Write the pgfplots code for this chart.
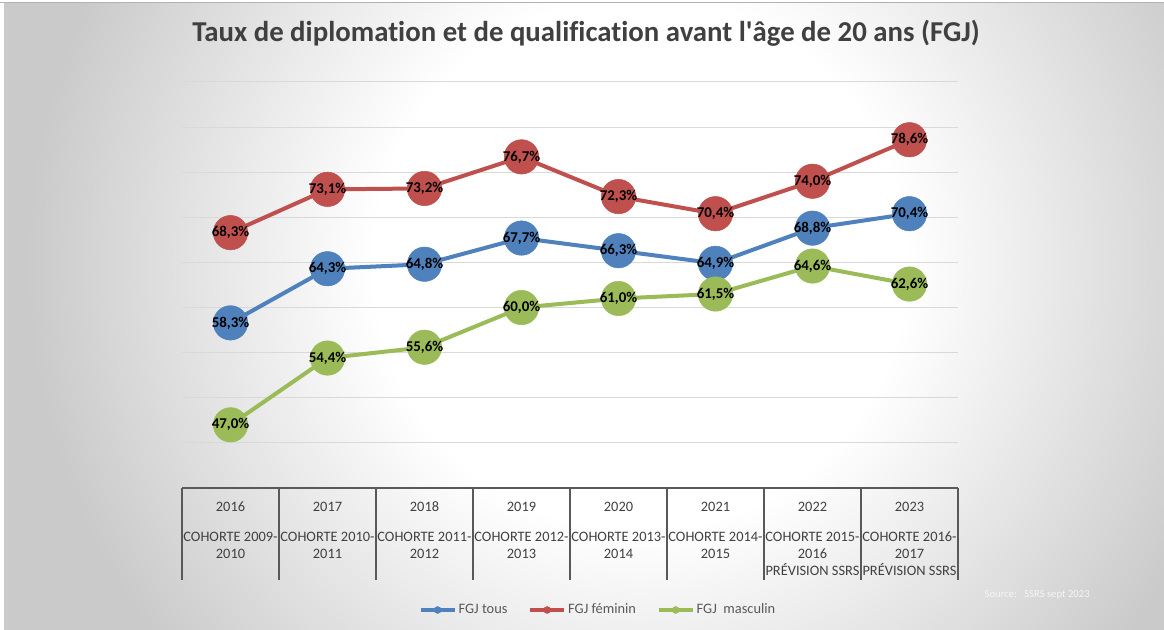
\documentclass[border=0pt]{standalone}
\usepackage{pgfplots}
\pgfplotsset{compat=1.18}
\usepackage{fontspec}
\setmainfont{Carlito}[RawFeature={-liga;-clig;-dlig;-calt}]
\definecolor{cblue}{HTML}{4F81BD}
\definecolor{cred}{HTML}{C0504D}
\definecolor{cgreen}{HTML}{9BBB59}
\definecolor{gridc}{HTML}{D9D9D9}
\definecolor{axc}{HTML}{595959}
\definecolor{txt}{HTML}{404040}
\definecolor{bggray}{HTML}{CACACA}
\pgfdeclareradialshading{bgshade}{\pgfpointorigin}{color(0pt)=(white); color(200pt)=(white); color(460pt)=(bggray); color(800pt)=(bggray)}
\pgfplotstableread{
x tous fem masc
0 58.3 68.3 47.0
1 64.3 73.1 54.4
2 64.8 73.2 55.6
3 67.7 76.7 60.0
4 66.3 72.3 61.0
5 64.9 70.4 61.5
6 68.8 74.0 64.6
7 70.4 78.6 62.6
}\data
\begin{document}
\begin{tikzpicture}
\useasboundingbox (0,0) rectangle (873pt,472.5pt);
\begin{scope}
\clip (0,0) rectangle (873pt,472.5pt);
\node[inner sep=0pt] at (480pt,275pt) {\pgfuseshading{bgshade}};
\end{scope}
\fill[white] (0,0) rectangle (3pt,472.5pt);
\fill[white] (0,471pt) rectangle (873pt,472.5pt);
\draw[gray!60, line width=0.6pt] (0,471pt) -- (873pt,471pt);
\node[anchor=base, text=txt, font=\fontsize{21.6}{24}\selectfont\bfseries] at (439.5pt,441pt) {Taux de diplomation et de qualification avant l\textquotesingle âge de 20 ans (FGJ)};
\node[anchor=base west, text=white!92!gray, font=\fontsize{8}{9}\selectfont] at (735pt,24pt) {Source:\ \ \ SSRS sept 2023};
\begin{axis}[
 at={(136.5pt,106.5pt)}, anchor=south west,
 width=582pt, height=304.5pt, scale only axis,
 xmin=-0.5, xmax=7.5, ymin=40, ymax=85,
 ytick={45,50,...,85}, yticklabels={}, ymajorgrids,
 grid style={gridc, line width=0.75pt},
 major tick length=0pt,
 axis line style={draw=none},
 xtick={0,...,7},
 xticklabels={
  {2016\\[9.75pt]COHORTE 2009-\\2010},
  {2017\\[9.75pt]COHORTE 2010-\\2011},
  {2018\\[9.75pt]COHORTE 2011-\\2012},
  {2019\\[9.75pt]COHORTE 2012-\\2013},
  {2020\\[9.75pt]COHORTE 2013-\\2014},
  {2021\\[9.75pt]COHORTE 2014-\\2015},
  {2022\\[9.75pt]COHORTE 2015-\\2016\\PRÉVISION SSRS},
  {2023\\[9.75pt]COHORTE 2016-\\2017\\PRÉVISION SSRS}},
 xticklabel style={align=center, font=\fontsize{10.8}{12.75}\selectfont, text=txt, anchor=north, yshift=-7pt},
 clip=false,
 every axis plot/.append style={line width=3pt, mark=*, mark size=12.9pt},
 nodes near coords={\pgfmathprintnumber[fixed,fixed zerofill,precision=1,use comma,assume math mode=true]{\pgfplotspointmeta}\%},
 nodes near coords style={anchor=center, text=black, font=\fontsize{11.2}{12}\selectfont\bfseries},
 legend style={at={(0.536,-0.3005)}, anchor=center, draw=none, fill=none, legend columns=3,
   font=\fontsize{10.8}{12}\selectfont, text=axc, nodes={inner xsep=1.5pt},
   /tikz/every even column/.append style={column sep=14pt}},
 legend image code/.code={\draw[mark repeat=2,mark phase=2,#1,mark size=2.6pt,line width=3pt,mark options={line width=0.4pt}] plot coordinates {(0pt,0pt) (12.75pt,0pt) (25.5pt,0pt)};},
]
\addplot[cblue, mark options={fill=cblue, draw=cblue, line width=0.4pt}] table[x=x,y=tous] {\data};
\addlegendentry{FGJ tous}
\addplot[cred, mark options={fill=cred, draw=cred, line width=0.4pt}] table[x=x,y=fem] {\data};
\addlegendentry{FGJ féminin}
\addplot[cgreen, mark options={fill=cgreen, draw=cgreen, line width=0.4pt}] table[x=x,y=masc] {\data};
\addlegendentry{FGJ\ \ masculin}
\draw[axc, line width=1.5pt] (axis cs:-0.5,40) -- (axis cs:7.5,40);
\pgfplotsinvokeforeach{0,...,8}{
 \draw[axc, line width=1.5pt] (axis cs:#1-0.5,40) -- ++(0pt,-69pt);
}
\end{axis}
\end{tikzpicture}
\end{document}
